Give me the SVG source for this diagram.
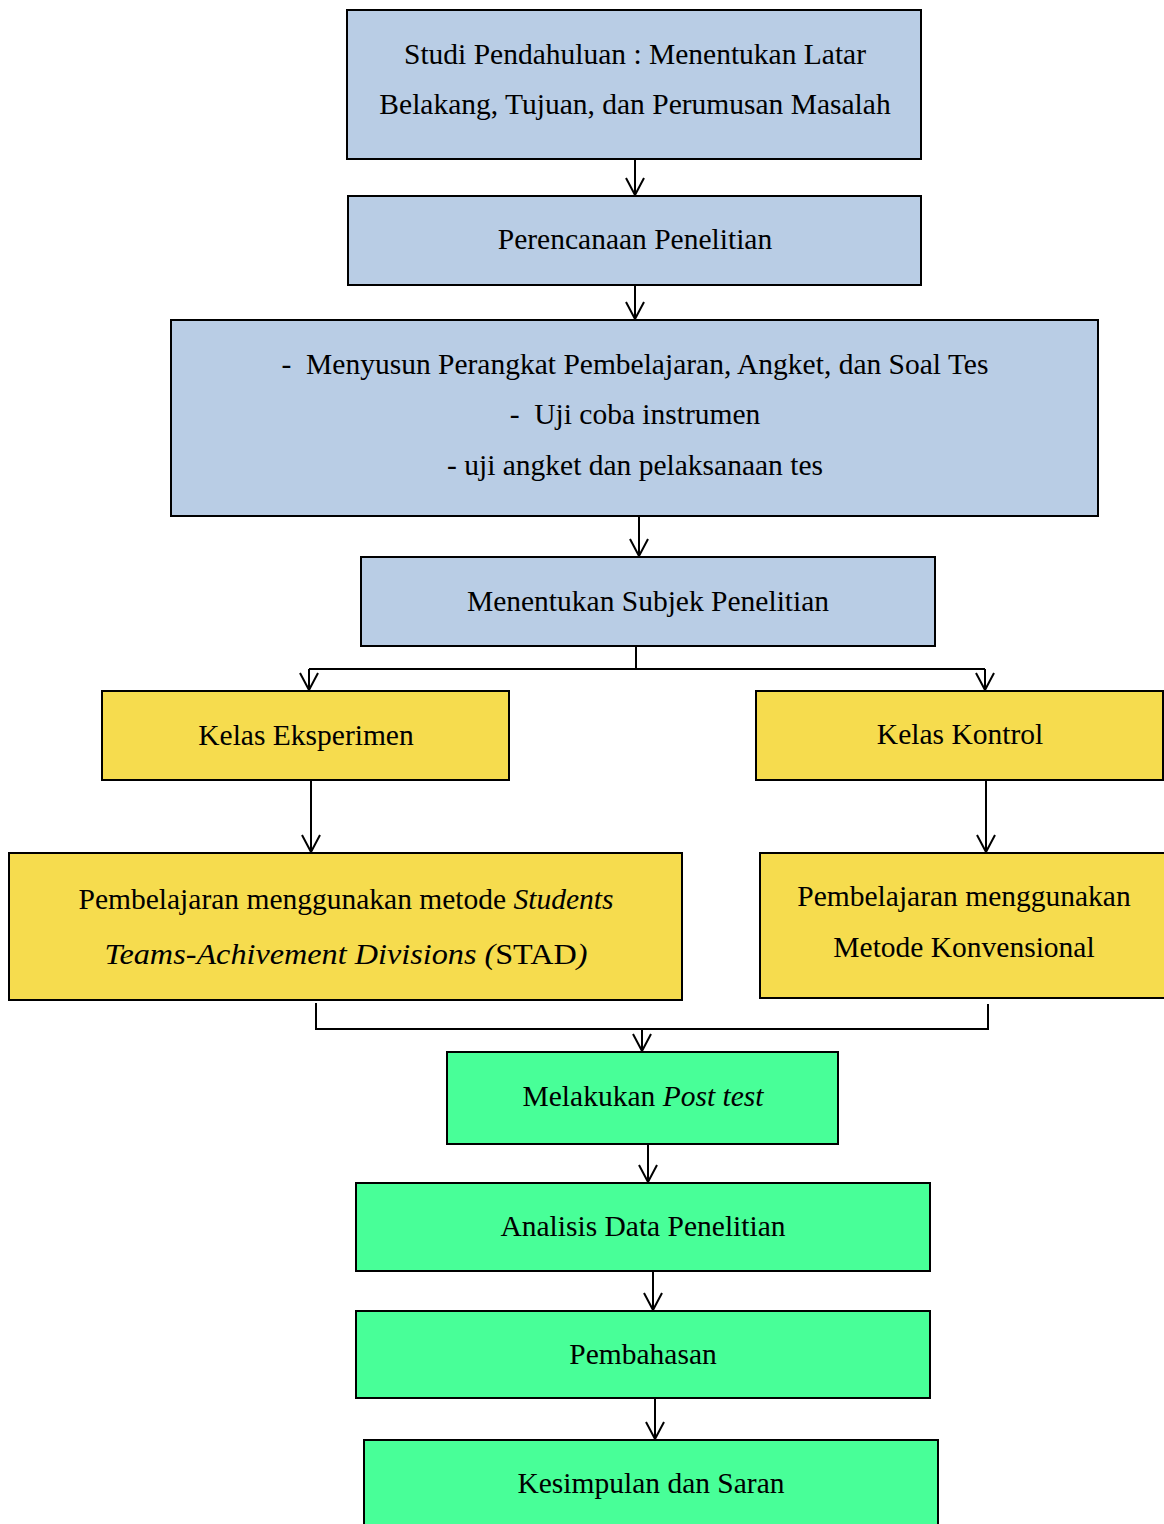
<svg xmlns="http://www.w3.org/2000/svg" width="1164" height="1524" viewBox="0 0 1164 1524">
<defs>
<style>
.b{stroke:#000;stroke-width:2}
.blue{fill:#B9CDE5}
.yel{fill:#F6DC4E}
.grn{fill:#48FF98}
text{font-family:"Liberation Serif","Times New Roman",serif;font-size:29.5px;fill:#000;text-anchor:middle;white-space:pre}
.i{font-style:italic}
.c{fill:none;stroke:#000;stroke-width:2}
</style>
<marker id="ah" viewBox="0 0 20 20" refX="18" refY="10" markerWidth="20" markerHeight="20" markerUnits="userSpaceOnUse" orient="auto">
<path d="M1,1 L18,10 L1,19" fill="none" stroke="#000" stroke-width="2"/>
</marker>
</defs>
<rect width="1164" height="1524" fill="#fff"/>
<g id="connectors">
<path class="c" d="M635,159 V195" marker-end="url(#ah)"/>
<path class="c" d="M635,285 V319" marker-end="url(#ah)"/>
<path class="c" d="M639,516 V556" marker-end="url(#ah)"/>
<path class="c" d="M636,646 V669"/>
<path class="c" d="M309,669 H985"/>
<path class="c" d="M309,669 V690" marker-end="url(#ah)"/>
<path class="c" d="M985,669 V690" marker-end="url(#ah)"/>
<path class="c" d="M311,780 V852" marker-end="url(#ah)"/>
<path class="c" d="M986,780 V852" marker-end="url(#ah)"/>
<path class="c" d="M316,1003 V1029 H988 V1004"/>
<path class="c" d="M642,1029 V1051" marker-end="url(#ah)"/>
<path class="c" d="M648,1144 V1182" marker-end="url(#ah)"/>
<path class="c" d="M653,1271 V1310" marker-end="url(#ah)"/>
<path class="c" d="M655,1398 V1439" marker-end="url(#ah)"/>
</g>
<g id="n1"><rect class="b blue" x="347" y="10" width="574" height="149"/>
<text x="635" y="64">Studi Pendahuluan : Menentukan Latar</text>
<text x="635" y="114">Belakang, Tujuan, dan Perumusan Masalah</text></g>
<g id="n2"><rect class="b blue" x="348" y="196" width="573" height="89"/>
<text x="635" y="249">Perencanaan Penelitian</text></g>
<g id="n3"><rect class="b blue" x="171" y="320" width="927" height="196"/>
<text x="635" y="374">-  Menyusun Perangkat Pembelajaran, Angket, dan Soal Tes</text>
<text x="635" y="424">-  Uji coba instrumen</text>
<text x="635" y="475">- uji angket dan pelaksanaan tes</text></g>
<g id="n4"><rect class="b blue" x="361" y="557" width="574" height="89"/>
<text x="648" y="611">Menentukan Subjek Penelitian</text></g>
<g id="n5"><rect class="b yel" x="102" y="691" width="407" height="89"/>
<text x="306" y="745">Kelas Eksperimen</text></g>
<g id="n6"><rect class="b yel" x="756" y="691" width="407" height="89"/>
<text x="960" y="744">Kelas Kontrol</text></g>
<g id="n7"><rect class="b yel" x="9" y="853" width="673" height="147"/>
<text x="346" y="909">Pembelajaran menggunakan metode <tspan class="i">Students</tspan></text>
<text x="346" y="964" textLength="483" lengthAdjust="spacingAndGlyphs"><tspan class="i">Teams-Achivement Divisions (</tspan>STAD<tspan class="i">)</tspan></text></g>
<g id="n8"><rect class="b yel" x="760" y="853" width="406" height="145"/>
<text x="964" y="906">Pembelajaran menggunakan</text>
<text x="964" y="957">Metode Konvensional</text></g>
<g id="n9"><rect class="b grn" x="447" y="1052" width="391" height="92"/>
<text x="643" y="1106">Melakukan <tspan class="i">Post test</tspan></text></g>
<g id="n10"><rect class="b grn" x="356" y="1183" width="574" height="88"/>
<text x="643" y="1236">Analisis Data Penelitian</text></g>
<g id="n11"><rect class="b grn" x="356" y="1311" width="574" height="87"/>
<text x="643" y="1364">Pembahasan</text></g>
<g id="n12"><rect class="b grn" x="364" y="1440" width="574" height="100"/>
<text x="651" y="1493">Kesimpulan dan Saran</text></g>
</svg>
